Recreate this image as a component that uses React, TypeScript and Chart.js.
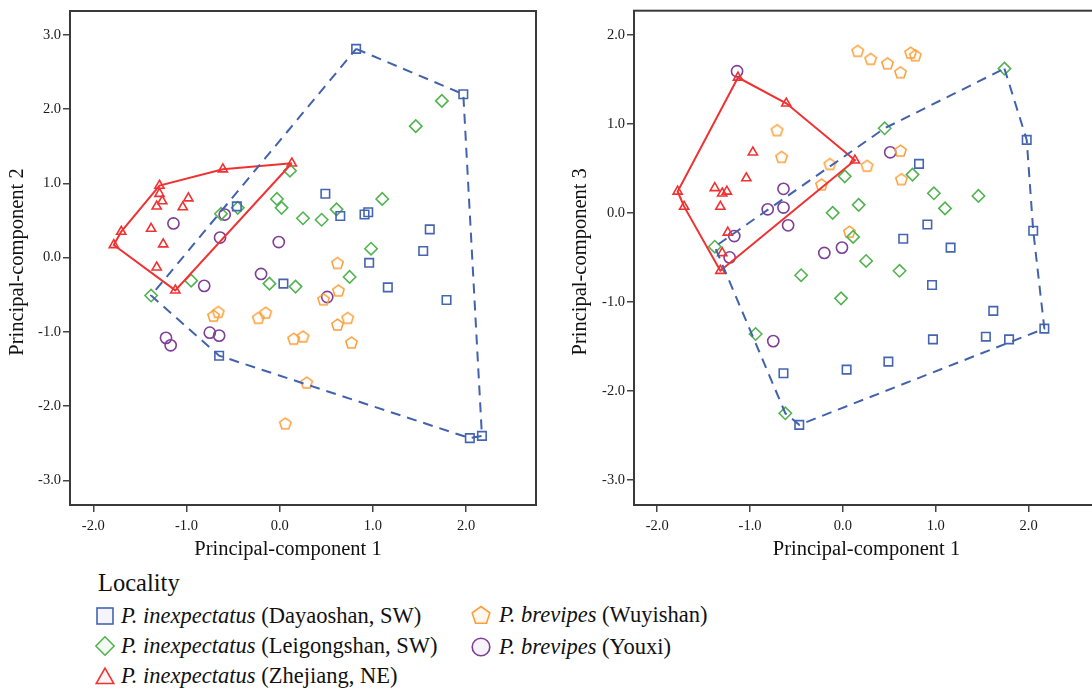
import React, { useEffect, useRef } from "react";
import { Chart, registerables } from "chart.js";
Chart.register(...registerables);

type P = [number, number];

// ---- tick labels ----
const xTickValues = [-2, -1, 0, 1, 2];
const yTickValuesPC2 = [-3, -2, -1, 0, 1, 2, 3];
const yTickValuesPC3 = [-3, -2, -1, 0, 1, 2];

const xTitle = "Principal-component 1";
const yTitlePC2 = "Principal-component 2";
const yTitlePC3 = "Principal-component 3";

// ---- Plot 1: PC1 vs PC2 ----
const dayaoshan12: P[] = [
  [0.82, 2.81], [1.97, 2.2], [0.49, 0.86], [-0.46, 0.69], [0.65, 0.56], [0.91, 0.58],
  [0.95, 0.61], [1.61, 0.38], [1.54, 0.09], [0.96, -0.07], [0.04, -0.35], [1.16, -0.4],
  [1.79, -0.57], [-0.65, -1.32], [2.04, -2.43], [2.17, -2.4],
];
const leigongshan12: P[] = [
  [1.74, 2.11], [1.46, 1.77], [0.11, 1.17], [-0.03, 0.79], [0.02, 0.67], [1.1, 0.79],
  [0.61, 0.65], [0.25, 0.53], [0.45, 0.51], [-0.45, 0.67], [-0.63, 0.59], [0.98, 0.12],
  [-0.95, -0.31], [-1.38, -0.51], [-0.11, -0.35], [0.17, -0.39], [0.75, -0.26],
];
const zhejiang12: P[] = [
  [0.13, 1.27], [-0.61, 1.19], [-1.29, 0.97], [-1.29, 0.86], [-1.26, 0.76], [-1.32, 0.69],
  [-0.98, 0.8], [-1.04, 0.68], [-1.38, 0.39], [-1.7, 0.35], [-1.78, 0.17], [-1.25, 0.18],
  [-1.32, -0.13], [-1.12, -0.44],
];
const wuyishan12: P[] = [
  [0.62, -0.07], [0.63, -0.44], [0.47, -0.56], [-0.66, -0.73], [-0.71, -0.78], [-0.15, -0.74],
  [-0.23, -0.81], [0.73, -0.81], [0.62, -0.9], [0.15, -1.09], [0.25, -1.06], [0.77, -1.14],
  [0.29, -1.68], [0.06, -2.23],
];
const youxi12: P[] = [
  [-1.14, 0.46], [-0.59, 0.58], [-0.64, 0.27], [-0.01, 0.21], [-0.2, -0.22], [-0.81, -0.38],
  [0.51, -0.53], [-1.22, -1.08], [-1.17, -1.18], [-0.75, -1.01], [-0.65, -1.05],
];
const hullSW12: P[] = [
  [0.82, 2.81], [1.97, 2.2], [2.17, -2.4], [2.04, -2.43], [-0.65, -1.32], [-1.38, -0.51], [0.82, 2.81],
];
const hullNE12: P[] = [
  [0.13, 1.27], [-0.61, 1.19], [-1.29, 0.97], [-1.7, 0.35], [-1.78, 0.17], [-1.12, -0.44], [0.13, 1.27],
];

// ---- Plot 2: PC1 vs PC3 ----
const dayaoshan13: P[] = [
  [1.98, 0.82], [0.82, 0.55], [2.05, -0.2], [0.91, -0.13], [0.65, -0.29], [1.16, -0.39],
  [0.96, -0.81], [1.62, -1.1], [2.17, -1.3], [0.97, -1.42], [1.54, -1.39], [1.79, -1.42],
  [0.49, -1.67], [0.04, -1.76], [-0.64, -1.8], [-0.47, -2.38],
];
const leigongshan13: P[] = [
  [1.74, 1.62], [0.45, 0.95], [0.75, 0.43], [0.02, 0.41], [0.98, 0.22], [1.46, 0.19],
  [1.1, 0.05], [0.17, 0.09], [-0.11, 0.0], [0.11, -0.27], [-1.38, -0.38], [0.25, -0.54],
  [0.61, -0.65], [-0.45, -0.7], [-0.02, -0.96], [-0.94, -1.36], [-0.62, -2.25],
];
const zhejiang13: P[] = [
  [-1.13, 1.52], [-0.61, 1.23], [0.13, 0.59], [-0.97, 0.68], [-1.04, 0.39], [-1.78, 0.24],
  [-1.71, 0.07], [-1.38, 0.28], [-1.3, 0.22], [-1.25, 0.24], [-1.32, 0.07], [-1.24, -0.22],
  [-1.3, -0.45], [-1.32, -0.65],
];
const wuyishan13: P[] = [
  [0.16, 1.82], [0.3, 1.73], [0.48, 1.68], [0.62, 1.58], [0.73, 1.8], [0.78, 1.77],
  [-0.71, 0.93], [-0.66, 0.63], [-0.14, 0.55], [0.26, 0.53], [0.62, 0.7], [0.63, 0.38],
  [-0.23, 0.32], [0.07, -0.21],
];
const youxi13: P[] = [
  [-1.14, 1.59], [0.51, 0.68], [-0.64, 0.27], [-0.81, 0.04], [-0.64, 0.06], [-0.59, -0.14],
  [-1.17, -0.26], [-1.22, -0.5], [-0.2, -0.45], [-0.01, -0.39], [-0.75, -1.44],
];
const hullSW13: P[] = [
  [1.74, 1.62], [1.98, 0.82], [2.05, -0.2], [2.17, -1.3], [-0.47, -2.38], [-0.62, -2.25],
  [-1.38, -0.38], [0.45, 0.95], [1.74, 1.62],
];
const hullNE13: P[] = [
  [-1.13, 1.52], [-0.61, 1.23], [0.13, 0.59], [-1.32, -0.65], [-1.71, 0.07], [-1.78, 0.24], [-1.13, 1.52],
];

// ---- legend ----
const legendTitle = "Locality";
const groupSpecies = ["P. inexpectatus", "P. inexpectatus", "P. inexpectatus", "P. brevipes", "P. brevipes"];
const groupPlaces = ["(Dayaoshan, SW)", "(Leigongshan, SW)", "(Zhejiang, NE)", "(Wuyishan)", "(Youxi)"];

const BLUE = "#4565b0";
const GREEN = "#52b350";
const RED = "#f03232";
const ORANGE = "#fb9e36";
const PURPLE = "#7d3f98";
const SERIF = "'Liberation Serif', 'Times New Roman', serif";

function makePentagon(color: string, r: number, lw: number): HTMLCanvasElement {
  const s = Math.ceil(2 * r + lw * 2 + 2);
  const c = document.createElement("canvas");
  c.width = s;
  c.height = s;
  const ctx = c.getContext("2d")!;
  ctx.strokeStyle = color;
  ctx.lineWidth = lw;
  ctx.lineJoin = "miter";
  ctx.beginPath();
  const cy = s / 2 + r * 0.1;
  for (let i = 0; i < 5; i++) {
    const a = -Math.PI / 2 + (i * 2 * Math.PI) / 5;
    const px = s / 2 + r * Math.cos(a);
    const py = cy + r * Math.sin(a);
    if (i === 0) ctx.moveTo(px, py);
    else ctx.lineTo(px, py);
  }
  ctx.closePath();
  ctx.stroke();
  return c;
}

const toXY = (pts: P[]) => pts.map(([x, y]) => ({ x, y }));

interface PlotProps {
  pageLeft: number;
  width: number;
  height: number;
  padTop: number;
  padRight: number;
  yAxisWidth: number;
  xAxisHeight: number;
  yMin: number;
  yMax: number;
  yTicks: number[];
  groups: P[][];
  hullSW: P[];
  hullNE: P[];
  yTitle: string;
  yTitleBaselineX: number;
  xTitleCenterX: number;
  xTitleBaselineY: number;
}

function Plot(props: PlotProps) {
  const ref = useRef<HTMLCanvasElement | null>(null);
  useEffect(() => {
    const canvas = ref.current;
    if (!canvas) return;
    const pent = makePentagon(ORANGE, 6, 1.5);
    const styles: any[] = ["rect", "rectRot", "triangle", pent, "circle"];
    const colors = [BLUE, GREEN, RED, ORANGE, PURPLE];
    const radii = [6, 6.2, 5.3, 6, 5.6];

    const pointSets = props.groups.map((g, i) => ({
      type: "scatter" as const,
      label: groupPlaces[i],
      data: toXY(g),
      showLine: false,
      pointStyle: styles[i],
      pointRadius: radii[i],
      pointHoverRadius: radii[i],
      pointBorderColor: colors[i],
      pointBackgroundColor: "rgba(0,0,0,0)",
      pointBorderWidth: 1.6,
    }));
    const hullSets = [
      {
        type: "scatter" as const,
        label: "SW hull",
        data: toXY(props.hullSW),
        showLine: true,
        borderColor: "#4262ad",
        borderWidth: 2,
        borderDash: [10, 7],
        pointRadius: 0,
        pointHoverRadius: 0,
        fill: false,
        tension: 0,
      },
      {
        type: "scatter" as const,
        label: "NE hull",
        data: toXY(props.hullNE),
        showLine: true,
        borderColor: RED,
        borderWidth: 2,
        pointRadius: 0,
        pointHoverRadius: 0,
        fill: false,
        tension: 0,
      },
    ];

    const framePlugin = {
      id: "frameAndTitles",
      afterDraw(chart: any) {
        const { ctx, chartArea } = chart;
        ctx.save();
        ctx.strokeStyle = "#3a3a3a";
        ctx.lineWidth = 2;
        ctx.strokeRect(chartArea.left, chartArea.top, chartArea.right - chartArea.left, chartArea.bottom - chartArea.top);
        ctx.fillStyle = "#111";
        ctx.font = `20.5px ${SERIF}`;
        ctx.textAlign = "center";
        ctx.textBaseline = "alphabetic";
        ctx.fillText(xTitle, props.xTitleCenterX, props.xTitleBaselineY);
        ctx.translate(props.yTitleBaselineX, (chartArea.top + chartArea.bottom) / 2 + 4);
        ctx.rotate(-Math.PI / 2);
        ctx.fillText(props.yTitle, 0, 0);
        ctx.restore();
      },
    };

    const tickFont = { family: SERIF, size: 14.5 };
    const chart = new Chart(canvas, {
      type: "scatter",
      data: { datasets: [...hullSets, ...pointSets] as any },
      options: {
        animation: false,
        responsive: false,
        maintainAspectRatio: false,
        devicePixelRatio: 1,
        events: [],
        layout: { padding: { top: props.padTop, right: props.padRight, left: 0, bottom: 0 } },
        plugins: { legend: { display: false }, tooltip: { enabled: false }, title: { display: false } },
        scales: {
          x: {
            type: "linear",
            position: "bottom",
            min: -2.25,
            max: 2.75,
            afterFit: (s: any) => {
              s.height = props.xAxisHeight;
            },
            afterBuildTicks: (s: any) => {
              s.ticks = xTickValues.map((v) => ({ value: v }));
            },
            grid: { drawOnChartArea: false, drawTicks: true, tickLength: 7, color: "#444", lineWidth: 1.5 },
            border: { display: false },
            ticks: {
              font: tickFont,
              color: "#1a1a1a",
              padding: 5,
              maxRotation: 0,
              autoSkip: false,
              callback: (v: any) => Number(v).toFixed(1),
            },
          },
          y: {
            type: "linear",
            position: "left",
            min: props.yMin,
            max: props.yMax,
            afterFit: (s: any) => {
              s.width = props.yAxisWidth;
            },
            afterBuildTicks: (s: any) => {
              s.ticks = props.yTicks.map((v) => ({ value: v }));
            },
            grid: { drawOnChartArea: false, drawTicks: true, tickLength: 7, color: "#444", lineWidth: 1.5 },
            border: { display: false },
            ticks: {
              font: tickFont,
              color: "#1a1a1a",
              padding: 2,
              autoSkip: false,
              callback: (v: any) => Number(v).toFixed(1),
            },
          },
        },
      } as any,
      plugins: [framePlugin],
    });
    return () => chart.destroy();
  }, []);
  return (
    <canvas
      ref={ref}
      width={props.width}
      height={props.height}
      style={{ position: "absolute", left: props.pageLeft, top: 0, width: props.width, height: props.height }}
    />
  );
}

function Marker({ kind }: { kind: number }) {
  const common = { strokeWidth: 1.6 } as any;
  if (kind === 0)
    return (
      <svg width="20" height="20" viewBox="0 0 20 20">
        <rect x="2" y="2" width="16" height="16" fill="#f3f5fb" stroke={BLUE} {...common} />
      </svg>
    );
  if (kind === 1)
    return (
      <svg width="20" height="20" viewBox="0 0 20 20">
        <polygon points="10,0.8 19.2,10 10,19.2 0.8,10" fill="#f3faf3" stroke={GREEN} {...common} />
      </svg>
    );
  if (kind === 2)
    return (
      <svg width="20" height="20" viewBox="0 0 20 20">
        <polygon points="10,2.2 18.8,17.5 1.2,17.5" fill="#fff4f4" stroke={RED} {...common} />
      </svg>
    );
  if (kind === 3) {
    const pts: string[] = [];
    for (let i = 0; i < 5; i++) {
      const a = -Math.PI / 2 + (i * 2 * Math.PI) / 5;
      pts.push(`${(10 + 9.3 * Math.cos(a)).toFixed(2)},${(10.8 + 9.3 * Math.sin(a)).toFixed(2)}`);
    }
    return (
      <svg width="20" height="20" viewBox="0 0 20 20">
        <polygon points={pts.join(" ")} fill="#fff7ee" stroke={ORANGE} {...common} />
      </svg>
    );
  }
  return (
    <svg width="20" height="20" viewBox="0 0 20 20">
      <circle cx="10" cy="10" r="8.8" fill="#f8f3fa" stroke={PURPLE} {...common} />
    </svg>
  );
}

export default function App() {
  const legendPos = [
    { mx: 95, tx: 121, top: 601 },
    { mx: 95, tx: 121, top: 631 },
    { mx: 95, tx: 121, top: 661 },
    { mx: 471, tx: 499, top: 600 },
    { mx: 471, tx: 499, top: 632 },
  ];
  return (
    <div
      style={{
        position: "absolute",
        left: 0,
        top: 0,
        width: 1092,
        height: 692,
        overflow: "hidden",
        background: "#fff",
        fontFamily: SERIF,
      }}
    >
      <Plot
        pageLeft={0}
        width={546}
        height={560}
        padTop={11}
        padRight={10}
        yAxisWidth={70}
        xAxisHeight={55}
        yMin={-3.33}
        yMax={3.32}
        yTicks={yTickValuesPC2}
        groups={[dayaoshan12, leigongshan12, zhejiang12, wuyishan12, youxi12]}
        hullSW={hullSW12}
        hullNE={hullNE12}
        yTitle={yTitlePC2}
        yTitleBaselineX={23}
        xTitleCenterX={288}
        xTitleBaselineY={555}
      />
      <Plot
        pageLeft={546}
        width={560}
        height={560}
        padTop={10}
        padRight={7}
        yAxisWidth={88}
        xAxisHeight={55}
        yMin={-3.28}
        yMax={2.27}
        yTicks={yTickValuesPC3}
        groups={[dayaoshan13, leigongshan13, zhejiang13, wuyishan13, youxi13]}
        hullSW={hullSW13}
        hullNE={hullNE13}
        yTitle={yTitlePC3}
        yTitleBaselineX={40}
        xTitleCenterX={320.5}
        xTitleBaselineY={555}
      />
      <div
        style={{
          position: "absolute",
          left: 98,
          top: 568,
          fontSize: 24.5,
          lineHeight: "30px",
          color: "#111",
          whiteSpace: "nowrap",
        }}
      >
        {legendTitle}
      </div>
      {legendPos.map((p, i) => (
        <React.Fragment key={i}>
          <div style={{ position: "absolute", left: p.mx, top: p.top + 5, width: 20, height: 20 }}>
            <Marker kind={i} />
          </div>
          <div
            style={{
              position: "absolute",
              left: p.tx,
              top: p.top,
              fontSize: 22.5,
              lineHeight: "30px",
              color: "#111",
              whiteSpace: "nowrap",
            }}
          >
            <i>{groupSpecies[i]}</i> {groupPlaces[i]}
          </div>
        </React.Fragment>
      ))}
    </div>
  );
}
